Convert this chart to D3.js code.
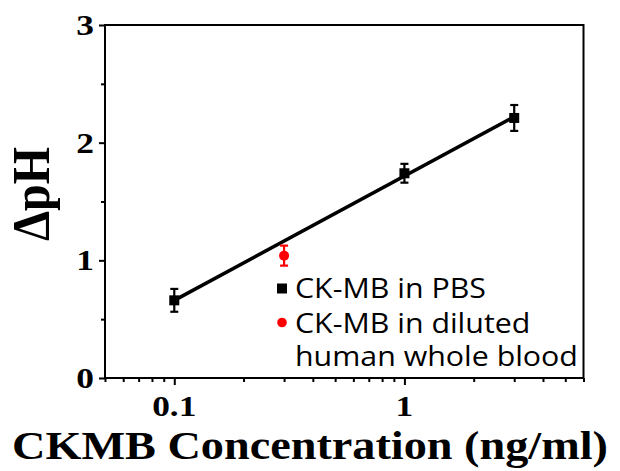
<!DOCTYPE html>
<html><head><meta charset="utf-8">
<script src="https://cdn.jsdelivr.net/npm/d3@7"></script>
<style>html,body{margin:0;padding:0;background:#fff;}</style>
</head><body>
<svg id="c" width="620" height="471"></svg>
<script>
// ---- data ----
const pbsConc = [0.1, 1, 3];
const pbsDpH  = [0.66, 1.74, 2.21];
const pbsErr  = [0.097, 0.08, 0.11];
const bloodConc = [0.3];
const bloodDpH  = [1.04];
const bloodErr  = [0.085];
const fitConc = [0.1, 3];
const fitDpH  = [0.66, 2.22];
const yTicks = [0, 1, 2, 3];
const yMinor = [0.5, 1.5, 2.5];
const xTickLabels = [0.1, 1];
const legendLabels = ["CK-MB in PBS", "CK-MB in diluted", "human whole blood"];
const xTitle = "CKMB Concentration (ng/ml)";
const yTitle = "\u0394pH";

// ---- layout ----
const L = 105, R = 583.5, T = 25, B = 378;
const SX = 1.18;
const serif = "'Liberation Serif','Times New Roman',serif";
const svg = d3.select("#c");
const x = d3.scaleLog().domain([0.05, 6]).range([L, R]);
const y = d3.scaleLinear().domain([0, 3]).range([B, T]);

// frame
svg.append("rect").attr("x", L).attr("y", T).attr("width", R - L).attr("height", B - T)
  .attr("fill", "none").attr("stroke", "#000").attr("stroke-width", 2);

// x axis ticks
const xt = x.ticks();
const xg = svg.append("g").attr("transform", `translate(0,${B})`)
  .call(d3.axisBottom(x).tickValues(xt).tickSize(4).tickFormat(""));
xg.select(".domain").remove();
xg.selectAll(".tick line").attr("stroke-width", 2)
  .attr("y2", d => (Math.abs(Math.log10(d) - Math.round(Math.log10(d))) < 1e-9) ? 7 : 4);
xTickLabels.forEach(v => {
  svg.append("text").attr("transform", `translate(${x(v)},416) scale(${SX},1)`)
    .attr("text-anchor", "middle").attr("font-family", serif).attr("font-weight", "bold")
    .attr("font-size", 30).text(v);
});

// y axis ticks
const yg = svg.append("g").attr("transform", `translate(${L},0)`)
  .call(d3.axisLeft(y).tickValues(yTicks.concat(yMinor)).tickSize(6).tickFormat(""));
yg.select(".domain").remove();
yg.selectAll(".tick line").attr("stroke-width", 2)
  .attr("x2", d => Number.isInteger(d) ? -6 : -4);
yTicks.forEach(v => {
  svg.append("text").attr("transform", `translate(94,${y(v) + 10}) scale(${SX},1)`)
    .attr("text-anchor", "end").attr("font-family", serif).attr("font-weight", "bold")
    .attr("font-size", 30).text(v);
});

// titles
const xt1 = svg.append("text")
  .attr("text-anchor", "middle").attr("font-family", serif).attr("font-weight", "bold")
  .attr("font-size", 41).text(xTitle);
const tw = xt1.node().getComputedTextLength();
xt1.attr("transform", `translate(310,459) scale(${Math.min(SX, 596 / tw)},1)`);
svg.append("text").attr("transform", `translate(49,194) scale(1.12,1) rotate(-90)`)
  .attr("text-anchor", "middle").attr("font-family", serif).attr("font-weight", "bold")
  .attr("font-size", 48).text(yTitle);

// fit line
const line = d3.line().x((d, i) => x(fitConc[i])).y(d => y(d));
svg.append("path").attr("d", line(fitDpH)).attr("fill", "none")
  .attr("stroke", "#000").attr("stroke-width", 3.5);

// error bars helper
function errBars(cx, cy, ce, color) {
  const g = svg.append("g").attr("stroke", color).attr("stroke-width", 2.2);
  cx.forEach((c, i) => {
    const px = x(c), top = y(cy[i] + ce[i]), bot = y(cy[i] - ce[i]);
    g.append("line").attr("x1", px).attr("x2", px).attr("y1", top).attr("y2", bot);
    g.append("line").attr("x1", px - 4).attr("x2", px + 4).attr("y1", top).attr("y2", top);
    g.append("line").attr("x1", px - 4).attr("x2", px + 4).attr("y1", bot).attr("y2", bot);
  });
}
errBars(pbsConc, pbsDpH, pbsErr, "#000");
errBars(bloodConc, bloodDpH, bloodErr, "#f00");

svg.append("g").selectAll("rect").data(pbsConc).join("rect")
  .attr("x", d => x(d) - 5).attr("y", (d, i) => y(pbsDpH[i]) - 5)
  .attr("width", 10).attr("height", 10).attr("fill", "#000");
svg.append("g").selectAll("circle").data(bloodConc).join("circle")
  .attr("cx", d => x(d)).attr("cy", (d, i) => y(bloodDpH[i])).attr("r", 5).attr("fill", "#f00");

// legend
const sans = "'Open Sans','DejaVu Sans',sans-serif";
svg.append("rect").attr("x", 277).attr("y", 283.5).attr("width", 10).attr("height", 10).attr("fill", "#000");
svg.append("circle").attr("cx", 282).attr("cy", 322.5).attr("r", 4.8).attr("fill", "#f00");
const lb = [298, 333, 366];
const lt = legendLabels.map((t, i) => svg.append("text")
  .attr("font-family", sans).attr("font-size", 27).attr("fill", "#000").text(t));
const w3 = lt[2].node().getComputedTextLength();
const lsx = 283 / w3;
lt.forEach((t, i) => t.attr("transform", `translate(295,${lb[i]}) scale(${lsx},1)`));
</script>
</body></html>
